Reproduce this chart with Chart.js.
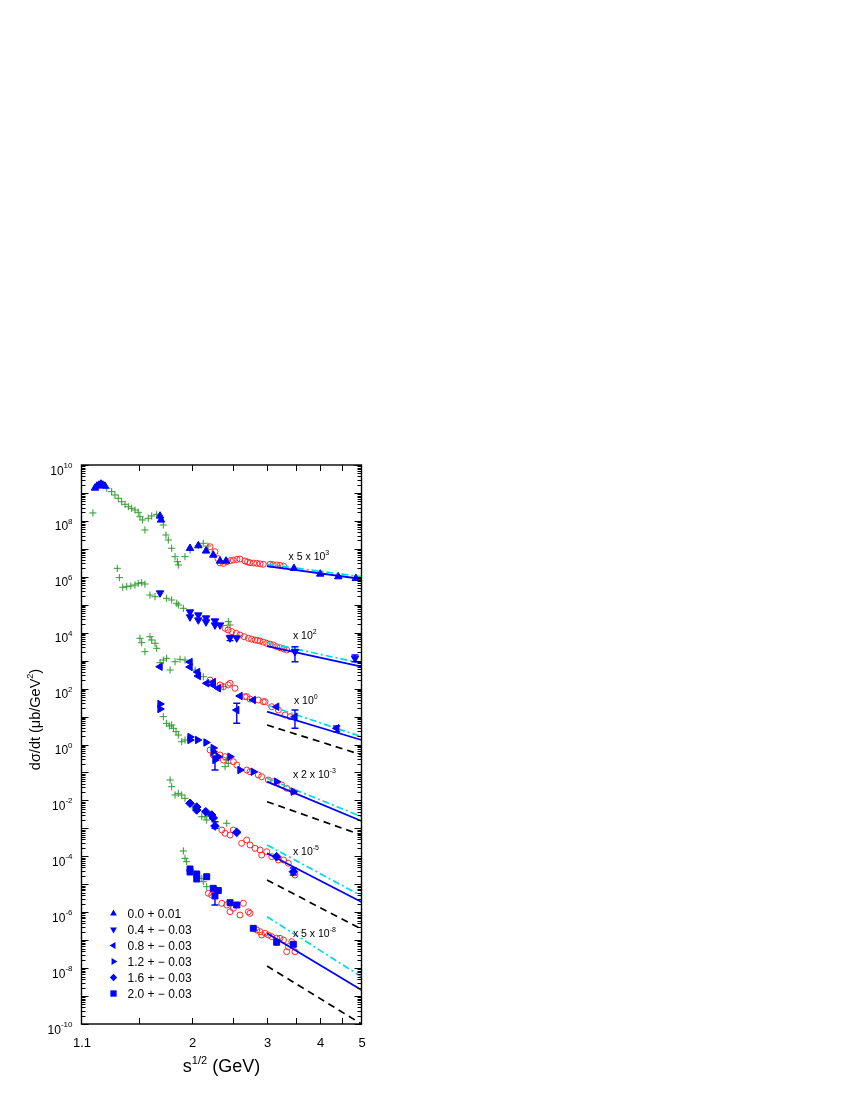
<!DOCTYPE html>
<html><head><meta charset="utf-8">
<script src="https://cdn.jsdelivr.net/npm/chart.js@4.4.1/dist/chart.umd.min.js"></script>
<style>html,body{margin:0;padding:0;background:#fff}canvas{display:block}</style>
</head><body>
<canvas id="c" width="850" height="1100"></canvas>
<script>
// ---------- DATA (x = s^1/2 in GeV, y = scaled dσ/dt in μb/GeV²) ----------
// Band 1 (x 5 x 10^3), -t = 0.0
const green1 = [[1.170,1.92e8],[1.261,1.47e9],[1.295,1.11e9],[1.318,8.45e8],[1.342,6.44e8],[1.367,4.86e8],[1.392,3.93e8],[1.417,3.22e8],[1.443,2.82e8],[1.469,2.45e8],[1.495,2.03e8],[1.509,1.41e8],[1.531,1.08e8],[1.550,4.72e7],[1.578,1.24e8],[1.608,1.50e8],[1.652,1.72e8],[1.712,7.13e7],[1.737,3.13e7],[1.759,2.07e7],[1.791,1.05e7],[1.824,5.24e6],[1.847,3.47e6],[1.857,2.64e6],[1.925,5.24e6],[1.978,9.1e6],[2.069,1.30e7],[2.125,1.58e7],[2.180,1.26e7]];
const blue1 = [[1.183,1.50e9],[1.196,1.77e9],[1.209,1.92e9],[1.222,2.09e9],[1.235,1.92e9],[1.249,1.77e9],[1.682,1.50e8],[1.691,1.08e8],[1.978,1.05e7],[2.069,1.30e7],[2.157,8.4e6],[2.243,6.0e6],[2.327,3.67e6],[2.403,3.67e6],[3.47,2.01e6],[4.0,1.26e6],[4.41,1.01e6],[4.85,8.8e5]];
const red1 = [[2.204,1.19e7],[2.264,7.9e6],[2.30,4.5e6],[2.327,3.12e6],[2.37,3.0e6],[2.413,3.47e6],[2.46,3.8e6],[2.50,3.99e6],[2.55,4.2e6],[2.592,4.33e6],[2.663,3.67e6],[2.70,3.4e6],[2.736,3.19e6],[2.79,3.1e6],[2.838,3.04e6],[2.89,2.9e6],[2.94,2.80e6],[3.05,2.80e6],[3.10,2.7e6],[3.16,2.64e6],[3.22,2.55e6],[3.28,2.43e6]];
const err1 = [];
const lineBlue1 = [[3,2.43e6],[5,8.34e5]];
const lineCyan1 = [[3,2.80e6],[5,1.01e6]];
const lineBlack1 = [];

// Band 2 (x 10^2), -t = 0.4
const green2 = [[1.335,2.01e6],[1.350,9.3e5],[1.375,4.21e5],[1.405,4.43e5],[1.436,4.69e5],[1.469,5.09e5],[1.495,5.85e5],[1.523,6.15e5],[1.550,5.52e5],[1.593,2.23e5],[1.637,1.94e5],[1.743,1.70e5],[1.791,1.48e5],[1.841,1.13e5],[1.857,9.8e4],[1.908,7.46e4],[2.433,2.48e4],[2.456,1.88e4]];
const blue2 = [[1.682,2.63e5],[1.978,5.5e4],[1.978,3.65e4],[2.069,4.30e4],[2.069,2.84e4],[2.157,3.36e4],[2.157,2.42e4],[2.264,2.62e4],[2.264,1.88e4],[2.327,1.88e4],[2.456,6.46e3],[2.547,6.46e3],[3.489,2.09e3],[4.827,1.21e3]];
const red2 = [[2.391,1.44e4],[2.43,1.25e4],[2.479,1.09e4],[2.54,9.5e3],[2.592,8.27e3],[2.65,7.2e3],[2.712,6.3e3],[2.76,5.9e3],[2.812,5.48e3],[2.85,5.3e3],[2.889,5.05e3],[2.94,4.6e3],[2.995,4.18e3],[3.05,3.9e3],[3.103,3.63e3],[3.16,3.16e3],[3.22,2.9e3],[3.28,2.65e3],[3.336,2.40e3]];
const err2 = [[2.456,5.2e3,8.0e3],[3.489,916,3.16e3],[4.827,916,1.59e3]];
const lineBlue2 = [[3,3.34e3],[5,608]];
const lineCyan2 = [[3,4.39e3],[5,804]];
const lineBlack2 = [];

// Band 3 (x 10^0), -t = 0.8
const green3 = [[1.509,6.3e3],[1.523,4.39e3],[1.550,2.09e3],[1.593,7.19e3],[1.608,5.48e3],[1.637,4.18e3],[1.652,2.77e3],[1.682,845],[1.712,1.05e3],[1.743,1.21e3],[1.776,462],[1.824,916],[1.874,1.12e3],[1.925,1.05e3],[2.033,462],[2.125,267],[2.369,117]];
const blue3 = [[1.682,608],[1.978,895],[1.978,593],[2.061,393],[2.069,282],[2.165,155],[2.243,172],[2.243,135],[2.305,103],[2.592,54.3],[2.785,39.1],[2.547,17.1],[3.16,22.5],[3.489,9.9],[4.373,3.8]];
const red3 = [[2.204,203],[2.327,135],[2.369,117],[2.433,135],[2.456,155],[2.523,103],[2.663,51.3],[2.688,51.3],[2.736,42.5],[2.861,39.1],[2.94,34],[2.968,34],[3.077,22.5],[3.189,17.1],[3.307,11.4],[3.397,9.9]];
const err3 = [[2.547,5.73,29.8],[3.489,3.8,17.1],[4.373,2.87,4.59]];
const lineBlue3 = [[3,14.9],[5,1.45]];
const lineCyan3 = [[3,25.9],[5,1.90]];
const lineBlack3 = [[3,4.99],[5,0.428]];

// Band 4 (x 2 x 10^-3), -t = 1.2
const green4 = [[1.712,9.9],[1.743,5.73],[1.769,4.59],[1.791,4.99],[1.808,3.80],[1.834,2.87],[1.857,2.19],[1.891,1.26],[1.925,1.45],[2.391,0.161],[2.433,0.212],[2.413,0.279]];
const blue4 = [[1.682,28.1],[1.682,18.6],[1.978,1.85],[1.978,1.45],[2.061,1.45],[2.157,1.18],[2.243,0.75],[2.243,0.552],[2.305,0.366],[2.264,0.279],[2.456,0.366],[2.592,0.122],[2.785,0.106],[3.16,0.0467],[3.459,0.0205]];
const red4 = [[2.204,0.635],[2.243,0.421],[2.327,0.421],[2.369,0.279],[2.391,0.366],[2.5,0.243],[2.547,0.185],[2.688,0.122],[2.736,0.106],[2.861,0.0811],[2.914,0.0705],[3.022,0.0537],[3.103,0.0467],[3.248,0.0356],[3.336,0.0271],[3.459,0.0205]];
const err4 = [[2.264,0.122,0.388]];
const lineBlue4 = [[3,0.0467],[5,1.83e-3]];
const lineCyan4 = [[3,0.0618],[5,2.61e-3]];
const lineBlack4 = [[3,9.0e-3],[5,5.78e-4]];

// Band 5 (x 10^-5), -t = 1.6
const green5 = [[1.776,0.0537],[1.791,0.0309],[1.824,0.0156],[1.857,0.0179],[1.891,0.0156],[1.925,0.0119],[2.033,5.21e-3],[2.108,2.61e-3],[2.145,2.61e-3],[2.165,1.99e-3],[2.413,1.52e-3]];
const blue5 = [[1.978,7.87e-3],[2.051,5.81e-3],[2.051,4.54e-3],[2.154,3.94e-3],[2.224,3.01e-3],[2.243,2.34e-3],[2.264,1.21e-3],[2.547,7.2e-4],[3.16,9.7e-5],[3.459,2.81e-5]];
const red5 = [[2.349,8.73e-4],[2.391,6.65e-4],[2.456,5.78e-4],[2.5,8.73e-4],[2.615,2.92e-4],[2.688,3.83e-4],[2.736,2.54e-4],[2.812,1.93e-4],[2.889,1.68e-4],[2.914,1.11e-4],[2.995,1.46e-4],[3.077,9.7e-5],[3.189,7.38e-5],[3.28,7.38e-5],[3.366,5.62e-5],[3.489,2.14e-5]];
const err5 = [[2.264,1.0e-3,1.73e-3],[3.459,2.14e-5,3.81e-5]];
const lineBlue5 = [[3,1.28e-4],[5,2.32e-6]];
const lineCyan5 = [[3,2.54e-4],[5,3.8e-6]];
const lineBlack5 = [[3,1.42e-5],[5,2.47e-7]];

// Band 6 (x 5 x 10^-8), -t = 2.0
const green6 = [[1.908,1.55e-4],[1.925,8.47e-5],[1.942,6.41e-5],[2.108,1.63e-5],[2.125,1.23e-5],[2.165,8.17e-6]];
const blue6 = [[1.978,3.52e-5],[1.978,2.74e-5],[2.051,2.33e-5],[2.051,1.54e-5],[2.165,1.86e-5],[2.243,7.16e-6],[2.264,3.80e-6],[2.305,5.97e-6],[2.456,2.19e-6],[2.547,1.81e-6],[2.785,2.65e-7],[3.16,8.38e-8],[3.459,7.11e-8]];
const red6 = [[2.184,4.74e-6],[2.224,4.12e-6],[2.349,2.08e-6],[2.413,1.81e-6],[2.456,1.04e-6],[2.5,1.38e-6],[2.592,7.94e-7],[2.639,2.08e-6],[2.712,1.04e-6],[2.736,9.14e-7],[2.838,2.31e-7],[2.889,2.0e-7],[2.914,1.53e-7],[2.968,1.76e-7],[3.022,1.53e-7],[3.077,1.33e-7],[3.16,1.16e-7],[3.218,1.16e-7],[3.28,1.01e-7],[3.336,3.86e-8],[3.366,5.83e-8],[3.429,8.81e-8],[3.489,3.86e-8]];
const err6 = [[2.264,1.81e-6,6.22e-6],[2.547,1.5e-6,2.2e-6]];
const lineBlue6 = [[3,1.76e-7],[5,1.64e-9]];
const lineCyan6 = [[3,6.9e-7],[5,4.92e-9]];
const lineBlack6 = [[3,1.19e-8],[5,1.0e-10]];

// Legend / labels / ticks
const legendLabels = ['0.0 + 0.01','0.4 + \u2212 0.03','0.8 + \u2212 0.03','1.2 + \u2212 0.03','1.6 + \u2212 0.03','2.0 + \u2212 0.03'];
const bandLabelBase = ['x 5 x 10','x 10','x 10','x 2 x 10','x 10','x 5 x 10'];
const bandLabelExp = ['3','2','0','-3','-5','-8'];
const bandLabelAt = [[3.37,4.0e6],[3.45,6.0e3],[3.47,28],[3.45,0.065],[3.45,1.1e-4],[3.45,1.35e-7]];
const xTickLabels = ['1.1','2','3','4','5'];
const xTickValues = [1.1,2,3,4,5];
const xMajorTicks = [1.5,2,2.5,3,3.5,4,4.5];
const yLabelExps = [10,8,6,4,2,0,-2,-4,-6,-8,-10];

// ---------- STYLE ----------
const FONT = "'Liberation Sans', Arial, Helvetica, sans-serif";
const BLUE = '#0000ff', GREEN = '#2f9a2f', RED = '#ff2a2a', CYAN = '#00d8e8';
const markerStyles = [
  {pointStyle:'triangle', rotation:0},
  {pointStyle:'triangle', rotation:180},
  {pointStyle:'triangle', rotation:270},
  {pointStyle:'triangle', rotation:90},
  {pointStyle:'rectRot', rotation:0},
  {pointStyle:'rect', rotation:0}
];
const bands = [
  [green1, red1, blue1, lineBlue1, lineCyan1, lineBlack1],
  [green2, red2, blue2, lineBlue2, lineCyan2, lineBlack2],
  [green3, red3, blue3, lineBlue3, lineCyan3, lineBlack3],
  [green4, red4, blue4, lineBlue4, lineCyan4, lineBlack4],
  [green5, red5, blue5, lineBlue5, lineCyan5, lineBlack5],
  [green6, red6, blue6, lineBlue6, lineCyan6, lineBlack6]
];
const errorSets = [err1, err2, err3, err4, err5, err6];
const pts = a => a.map(p => ({x:p[0], y:p[1]}));

const datasets = [];
bands.forEach((b, i) => {
  const [g, r, bl, lb, lc, lk] = b;
  datasets.push({data: pts(g), pointStyle:'cross', pointRadius:3.6, borderColor:GREEN, backgroundColor:GREEN, pointBorderWidth:1, order:4});
  datasets.push({data: pts(r), pointStyle:'circle', pointRadius:3, borderColor:RED, backgroundColor:'rgba(0,0,0,0)', pointBorderWidth:1, order:3});
  datasets.push({data: pts(bl), pointStyle:markerStyles[i].pointStyle, rotation:markerStyles[i].rotation, pointRadius:i===5?4.2:4.3, borderColor:BLUE, backgroundColor:BLUE, pointBorderWidth:1, order:0});
  if (lb.length) datasets.push({data: pts(lb), showLine:true, pointRadius:0, borderColor:BLUE, borderWidth:1.8, order:1});
  if (lc.length) datasets.push({data: pts(lc), showLine:true, pointRadius:0, borderColor:CYAN, borderWidth:1.7, borderDash:[7,3,2,3], order:1});
  if (lk.length) datasets.push({data: pts(lk), showLine:true, pointRadius:0, borderColor:'#000', borderWidth:1.7, borderDash:[7,5], order:1});
});

function drawRich(ctx, segs, x, y, align) {
  let w = 0;
  segs.forEach(s => { ctx.font = s[1]; w += ctx.measureText(s[0]).width; });
  let cx = align === 'right' ? x - w : align === 'center' ? x - w/2 : x;
  segs.forEach(s => { ctx.font = s[1]; ctx.fillText(s[0], cx, y + (s[2]||0)); cx += ctx.measureText(s[0]).width; });
}

function marker(ctx, i, x, y, r) {
  ctx.beginPath();
  if (i < 4) {
    const rot = [0, Math.PI, -Math.PI/2, Math.PI/2][i];
    for (let k = 0; k < 3; k++) {
      const a = rot + k * 2*Math.PI/3;
      const px = x + Math.sin(a)*r, py = y - Math.cos(a)*r;
      k ? ctx.lineTo(px, py) : ctx.moveTo(px, py);
    }
  } else if (i === 4) {
    ctx.moveTo(x, y-r); ctx.lineTo(x+r, y); ctx.lineTo(x, y+r); ctx.lineTo(x-r, y);
  } else {
    const h = r*0.75; ctx.rect(x-h, y-h, 2*h, 2*h);
  }
  ctx.closePath(); ctx.fill();
}

const decor = {
  id: 'decor',
  afterDatasetsDraw(chart) {
    const {ctx, chartArea: a, scales: {x, y}} = chart;
    ctx.save();
    // error bars
    ctx.strokeStyle = BLUE; ctx.lineWidth = 1.4;
    errorSets.forEach(set => set.forEach(([s, lo, hi]) => {
      const px = x.getPixelForValue(s), p1 = y.getPixelForValue(lo), p2 = y.getPixelForValue(hi);
      ctx.beginPath();
      ctx.moveTo(px, p1); ctx.lineTo(px, p2);
      ctx.moveTo(px-3.5, p1); ctx.lineTo(px+3.5, p1);
      ctx.moveTo(px-3.5, p2); ctx.lineTo(px+3.5, p2);
      ctx.stroke();
    }));
    // frame
    ctx.strokeStyle = '#000'; ctx.lineWidth = 1.4;
    ctx.strokeRect(a.left, a.top, a.right - a.left, a.bottom - a.top);
    // y ticks (inward, both sides)
    ctx.lineWidth = 1;
    ctx.beginPath();
    for (let k = -10; k <= 10; k++) {
      for (let m = 1; m <= 9; m++) {
        const v = m * Math.pow(10, k);
        if (v > 1e10 * 1.0001) continue;
        const py = Math.round(y.getPixelForValue(v)) + 0.5;
        const len = m === 1 ? 7 : 4;
        ctx.moveTo(a.left, py); ctx.lineTo(a.left + len, py);
        ctx.moveTo(a.right, py); ctx.lineTo(a.right - len, py);
      }
    }
    // x ticks (inward, bottom and top)
    xMajorTicks.forEach(t => {
      const px = Math.round(x.getPixelForValue(t)) + 0.5;
      ctx.moveTo(px, a.bottom); ctx.lineTo(px, a.bottom - 6);
      ctx.moveTo(px, a.top); ctx.lineTo(px, a.top + 6);
    });
    ctx.stroke();

    ctx.fillStyle = '#000';
    ctx.textBaseline = 'alphabetic';
    ctx.textAlign = 'left';
    // y tick labels
    yLabelExps.forEach(e => {
      const py = y.getPixelForValue(Math.pow(10, e));
      drawRich(ctx, [['10', '12px ' + FONT, 0], [String(e), '8px ' + FONT, -6.5]], 72.5, py + 9.5, 'right');
    });
    // x tick labels
    xTickValues.forEach((v, i) => {
      const px = x.getPixelForValue(v);
      drawRich(ctx, [[xTickLabels[i], '13px ' + FONT, 0]], px + 0.5, 1047, 'center');
    });
    // x title
    drawRich(ctx, [['s', '18px ' + FONT, 0], ['1/2', '11px ' + FONT, -8], [' (GeV)', '18px ' + FONT, 0]], 221.5, 1072, 'center');
    // y title
    ctx.save();
    ctx.translate(40, 719.5);
    ctx.rotate(-Math.PI/2);
    drawRich(ctx, [['d\u03c3/dt (\u03bcb/GeV', '14.5px ' + FONT, 0], ['2', '9px ' + FONT, -7], [')', '14.5px ' + FONT, 0]], 0, 0, 'center');
    ctx.restore();
    // band labels
    bandLabelAt.forEach((p, i) => {
      const px = x.getPixelForValue(p[0]), py = y.getPixelForValue(p[1]);
      drawRich(ctx, [[bandLabelBase[i], '10.5px ' + FONT, 0], [bandLabelExp[i], '7px ' + FONT, -5]], px, py, 'left');
    });
    // legend
    legendLabels.forEach((t, i) => {
      const ly = 913.5 + i * 16;
      ctx.fillStyle = BLUE;
      marker(ctx, i, 113.5, ly, i === 4 ? 3.7 : (i === 5 ? 4.2 : 3.9));
      ctx.fillStyle = '#000';
      drawRich(ctx, [[t, '12px ' + FONT, 0]], 127.5, ly + 4.2, 'left');
    });
    ctx.restore();
  }
};

new Chart(document.getElementById('c'), {
  type: 'scatter',
  data: {datasets},
  options: {
    responsive: false,
    animation: false,
    devicePixelRatio: 1,
    layout: {padding: {left: 81.5, right: 488.5, top: 465, bottom: 76}},
    plugins: {legend: {display: false}, tooltip: {enabled: false}},
    scales: {
      x: {type: 'logarithmic', min: 1.1, max: 5, display: false},
      y: {type: 'logarithmic', min: 1e-10, max: 1e10, display: false}
    }
  },
  plugins: [decor]
});
</script>
</body></html>
